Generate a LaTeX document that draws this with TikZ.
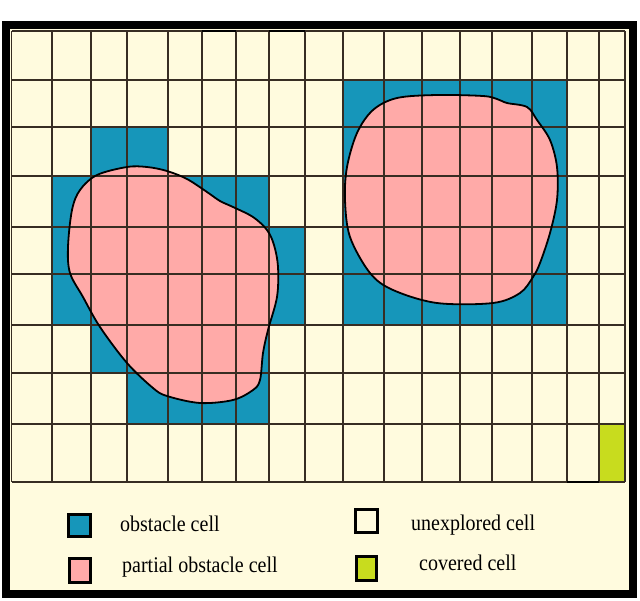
\documentclass[tikz,border=0pt]{standalone}
\usepackage{fontspec}
\setmainfont{Liberation Serif}
\begin{document}
\begin{tikzpicture}[x=1pt,y=-1pt,
  cellline/.style={draw={rgb,255:red,55;green,45;blue,35},line width=1.2pt},
  blobfill/.style={fill=pinkc},
  blobedge/.style={draw=black,line width=1.8pt},
  legbox/.style={draw=black,line width=3pt},
  legtext/.style={anchor=base west,inner sep=0pt,font=\fontsize{20}{24}\selectfont}]
\definecolor{creamc}{RGB}{255,251,222}
\definecolor{bluec}{RGB}{22,150,186}
\definecolor{pinkc}{RGB}{255,170,168}
\definecolor{greenc}{RGB}{200,220,30}
\useasboundingbox (0,0) rectangle (640,600);
\fill[white] (0,0) rectangle (640,600);
% frame
\fill[creamc] (6,25) rectangle (633,594);
\draw[black,line width=8pt] (6,25) rectangle (633,594);
% obstacle cells
\fill[bluec] (91,127) rectangle (168,176);
\fill[bluec] (52,176) rectangle (269,227);
\fill[bluec] (52,227) rectangle (305,325);
\fill[bluec] (91,325) rectangle (269,373);
\fill[bluec] (127,373) rectangle (269,424);
\fill[bluec] (343,80) rectangle (567,325);
% covered cell
\fill[greenc] (599,424) rectangle (625,482);
% partial obstacles
\path[blobfill] plot[smooth cycle,tension=0.55] coordinates {
 (127,167) (147,167) (167,171) (187,179) (207,192) (220,201) (233,207)
 (253,217) (267,230) (274,245) (278,267) (277,297) (268,330) (263,353)
 (260,380) (253,390) (233,400) (200,403) (167,396) (153,388) (127,363)
 (100,327) (83,297) (70,273) (68,247) (72,210) (80,190) (97,175)};
\path[blobfill] plot[smooth cycle,tension=0.55] coordinates {
 (437,95) (483,96) (497,99) (507,103) (527,107) (537,120) (550,140)
 (557,167) (557,200) (550,233) (540,263) (533,277) (520,293) (493,303)
 (437,303) (393,290) (370,273) (350,237) (345,200) (347,167) (357,133)
 (373,110) (397,98)};
% grid
\foreach \gx in {11.7,52,91,127,168,202,236,269,305,343,384,422,460,492,532,567,599,625}
  \draw[cellline] (\gx,31) -- (\gx,482);
\foreach \gy in {31,80,127,176,227,274,325,373,424,482}
  \draw[cellline] (11.7,\gy) -- (625,\gy);
\draw[black,line width=2.4pt] (202,31) -- (236,31);
\draw[black,line width=2.4pt] (269,31) -- (305,31);
\draw[black,line width=2.4pt] (567,482) -- (599,482);
% blob outlines
\path[blobedge] plot[smooth cycle,tension=0.55] coordinates {
 (127,167) (147,167) (167,171) (187,179) (207,192) (220,201) (233,207)
 (253,217) (267,230) (274,245) (278,267) (277,297) (268,330) (263,353)
 (260,380) (253,390) (233,400) (200,403) (167,396) (153,388) (127,363)
 (100,327) (83,297) (70,273) (68,247) (72,210) (80,190) (97,175)};
\path[blobedge] plot[smooth cycle,tension=0.55] coordinates {
 (437,95) (483,96) (497,99) (507,103) (527,107) (537,120) (550,140)
 (557,167) (557,200) (550,233) (540,263) (533,277) (520,293) (493,303)
 (437,303) (393,290) (370,273) (350,237) (345,200) (347,167) (357,133)
 (373,110) (397,98)};
% legend
\draw[legbox,fill=bluec] (68.5,514.5) rectangle (90.5,536.5);
\draw[legbox,fill=pinkc] (69.5,558.5) rectangle (90.5,582.5);
\draw[legbox,fill=creamc] (355.5,509.5) rectangle (377.5,532.5);
\draw[legbox,fill=greenc] (356.5,556.5) rectangle (376.5,580.5);
\node[legtext] (t1) at (120,531.5) {\scalebox{1}[1.12]{obstacle cell}};
\node[legtext] (t2) at (122,572.5) {\scalebox{1}[1.12]{partial obstacle cell}};
\node[legtext] (t3) at (411,530) {\scalebox{1}[1.12]{unexplored cell}};
\node[legtext] (t4) at (419,570.5) {\scalebox{1}[1.12]{covered cell}};
\end{tikzpicture}
\end{document}
